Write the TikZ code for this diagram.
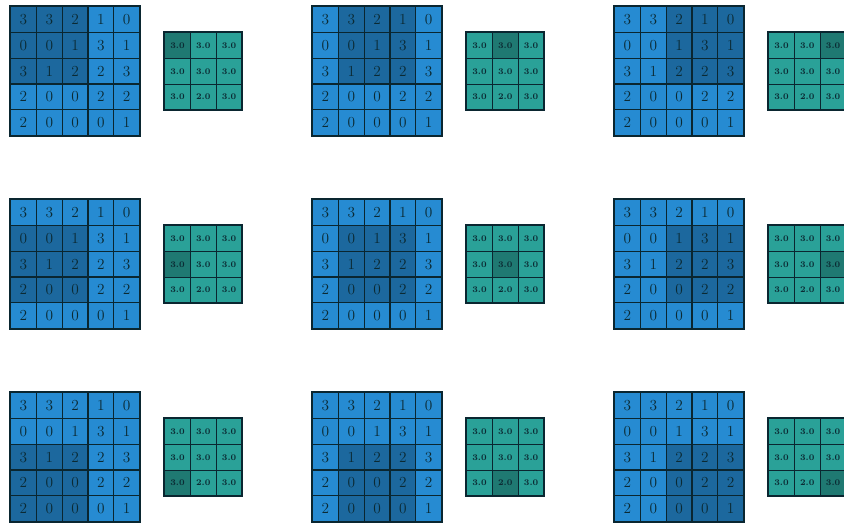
\documentclass[tikz,border=0pt]{standalone}
\begin{document}
\begin{tikzpicture}[x=0.75pt,y=-0.75pt,
  incell/.style={draw=gridline,fill=sblue,line width=0.9pt,minimum size=19.35pt,inner sep=0pt,anchor=north west,text=txt,font=\fontsize{11.5}{12}\selectfont},
  inhl/.style={fill=sbluedark},
  outcell/.style={draw=gridline,fill=scyan,line width=0.9pt,minimum size=19.35pt,inner sep=0pt,anchor=north west,text=txt,font=\fontsize{6.5}{7}\selectfont\bfseries},
  outhl/.style={fill=scyandark},
  frame/.style={draw=gridline,line width=1.2pt}]
\definecolor{sblue}{HTML}{268BD2}
\definecolor{sbluedark}{HTML}{1C689E}
\definecolor{scyan}{HTML}{2AA198}
\definecolor{scyandark}{HTML}{1F7972}
\definecolor{gridline}{HTML}{0A2630}
\definecolor{txt}{HTML}{0B2A33}
\useasboundingbox (0,0) rectangle (844,523);
\clip (0,0) rectangle (844,523);
\def\cs{25.8}
\foreach \pr in {0,1,2}{
 \foreach \pc in {0,1,2}{
  \pgfmathsetmacro{\ox}{10+302*\pc}
  \pgfmathsetmacro{\oy}{6+193*\pr}
  \pgfmathsetmacro{\qx}{164+302*\pc}
  \pgfmathsetmacro{\qy}{32+193*\pr}
  % input grid
  \foreach \row/\vals in {0/{3,3,2,1,0},1/{0,0,1,3,1},2/{3,1,2,2,3},3/{2,0,0,2,2},4/{2,0,0,0,1}}{
   \foreach \v [count=\col from 0] in \vals {
     \pgfmathtruncatemacro{\hl}{(\row>=\pr)&&(\row<=\pr+2)&&(\col>=\pc)&&(\col<=\pc+2)}
     \ifnum\hl=1
       \node[incell,inhl] (in-\pr-\pc-\row-\col) at (\ox+\col*\cs,\oy+\row*\cs) {\v};
     \else
       \node[incell] (in-\pr-\pc-\row-\col) at (\ox+\col*\cs,\oy+\row*\cs) {\v};
     \fi
   }
  }
  \draw[frame] (in-\pr-\pc-0-0.north west) rectangle (in-\pr-\pc-4-4.south east);
  % output grid
  \foreach \row/\vals in {0/{3.0,3.0,3.0},1/{3.0,3.0,3.0},2/{3.0,2.0,3.0}}{
   \foreach \v [count=\col from 0] in \vals {
     \pgfmathtruncatemacro{\hl}{(\row==\pr)&&(\col==\pc)}
     \ifnum\hl=1
       \node[outcell,outhl] (out-\pr-\pc-\row-\col) at (\qx+\col*\cs,\qy+\row*\cs) {\v};
     \else
       \node[outcell] (out-\pr-\pc-\row-\col) at (\qx+\col*\cs,\qy+\row*\cs) {\v};
     \fi
   }
  }
  \draw[frame] (out-\pr-\pc-0-0.north west) rectangle (out-\pr-\pc-2-2.south east);
 }
}
\end{tikzpicture}
\end{document}
